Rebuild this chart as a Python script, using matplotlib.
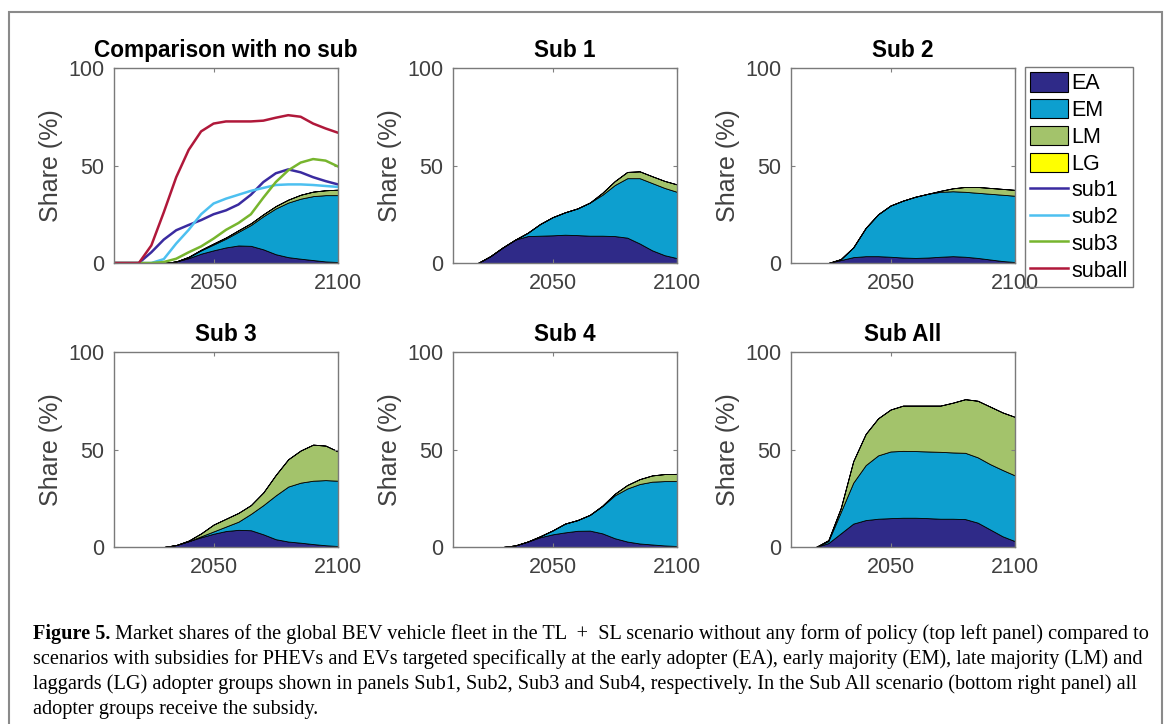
import numpy as np
import matplotlib
matplotlib.use("Agg")
import matplotlib.pyplot as plt
from matplotlib.patches import Patch, Rectangle
from matplotlib.lines import Line2D

plt.rcParams['font.family'] = ['Liberation Sans', 'DejaVu Sans']

# years shown on the x axis
years = np.arange(2010, 2101, 5)

group_names = ["EA", "EM", "LM", "LG"]
group_colors = ["#2f2a88", "#0d9fcf", "#a3c36b", "#ffff00"]

# adopter-group shares (%) per panel, layer values (not cumulative)
nosub_ea = [0, 0, 0, 0, 0, 0.8, 2.5, 4.8, 6.5, 8, 9, 8.8, 7, 4.5, 3, 2.2, 1.5, 0.8, 0.5]
nosub_em = [0, 0, 0, 0, 0, 0, 0.5, 1.7, 3, 4.5, 7, 10.7, 17, 23.5, 28, 30.8, 32.8, 34, 34.3]
nosub_lm = [0, 0, 0, 0, 0, 0, 0.2, 0.3, 0.5, 0.6, 0.8, 0.9, 1, 1.2, 1.5, 2, 2.3, 2.5, 2.8]
nosub_lg = [0] * 19

sub1_ea = [0, 0, 0, 3.5, 8, 12, 13.8, 14, 14.2, 14.5, 14.3, 14, 14, 13.8, 13, 10, 6.5, 4, 2.5]
sub1_em = [0, 0, 0, 0, 0, 0, 1.7, 6, 9.3, 11.5, 13.7, 17, 21, 26.2, 30.5, 33.5, 34.5, 34.5, 34]
sub1_lm = [0, 0, 0, 0, 0, 0, 0, 0, 0, 0, 0, 0, 1, 2, 3.2, 3.5, 3.5, 3.6, 3.8]
sub1_lg = [0] * 19

sub2_ea = [0, 0, 0, 0, 1.5, 3, 3.5, 3.5, 3.2, 2.8, 2.6, 2.8, 3.2, 3.5, 3.2, 2.6, 1.8, 1, 0.5]
sub2_em = [0, 0, 0, 0, 0.5, 5, 14.5, 21.5, 26.3, 29.2, 31.4, 32.7, 33.3, 33.3, 33.3, 33.4, 33.7, 34, 34]
sub2_lm = [0, 0, 0, 0, 0, 0, 0, 0, 0, 0, 0, 0, 0.5, 1.5, 2.5, 3, 3, 3, 3]
sub2_lg = [0] * 19

sub3_ea = [0, 0, 0, 0, 0, 1, 3, 5, 6.8, 8.2, 8.8, 8.6, 6.5, 4, 2.8, 2.2, 1.5, 0.9, 0.5]
sub3_em = [0, 0, 0, 0, 0, 0, 0, 0.5, 1.2, 2.3, 4.2, 8.4, 15, 22.5, 28.2, 30.8, 32.5, 33.4, 33.5]
sub3_lm = [0, 0, 0, 0, 0, 0, 0.3, 1.5, 3.5, 4, 4.5, 4.5, 6.5, 10.5, 14, 16.5, 18.5, 17.7, 15]
sub3_lg = [0] * 19

sub4_ea = [0, 0, 0, 0, 0, 0.8, 2.8, 5, 6.5, 7.5, 8.3, 8.4, 7, 4.5, 2.8, 1.8, 1.3, 0.8, 0.5]
sub4_em = [0, 0, 0, 0, 0, 0, 0, 0.5, 2, 4.5, 5.5, 8.1, 14, 22, 27.2, 30.5, 32.2, 33, 33.3]
sub4_lm = [0, 0, 0, 0, 0, 0, 0, 0, 0, 0, 0, 0, 0.2, 0.8, 1.8, 2.5, 3.2, 3.6, 3.7]
sub4_lg = [0] * 19

suball_ea = [0, 0, 0, 2, 7, 12, 13.8, 14.5, 14.8, 15, 15, 14.8, 14.5, 14.5, 14.3, 12.5, 9, 5.5, 3]
suball_em = [0, 0, 0, 1, 11, 21, 28.2, 32.5, 34.2, 34.3, 34.2, 34.2, 34.3, 34, 34, 33.5, 33.5, 34, 33.7]
suball_lm = [0, 0, 0, 0.5, 2, 11, 16, 19, 21.5, 23.2, 23.3, 23.5, 23.7, 25.5, 27.5, 29, 29.5, 29.5, 30]
suball_lg = [0] * 19

# total BEV share (%) of each subsidy scenario, drawn as lines in the first panel
line_sub1 = [0, 0, 0, 5.5, 12, 16.8, 19.5, 22, 25, 27, 30, 35, 41.5, 46, 48, 46.5, 44, 42, 40.3]
line_sub2 = [0, 0, 0, 0, 2, 10, 17, 25, 30.5, 33, 35, 37, 38.5, 40, 40.3, 40.3, 40, 39.5, 39]
line_sub3 = [0, 0, 0, 0, 0.5, 2.2, 5.5, 8.5, 12.5, 17, 20.5, 25, 33.5, 41.5, 47.5, 51.5, 53.3, 52.5, 49.5]
line_suball = [0, 0, 0, 9, 26, 44, 58, 67.5, 71.5, 72.6, 72.6, 72.6, 73, 74.5, 75.8, 75, 71.5, 69, 66.8]
line_names = ["sub1", "sub2", "sub3", "suball"]
line_colors = ["#3a2ba0", "#4dc0f0", "#77b52e", "#b0183a"]

panel_titles = ["Comparison with no sub", "Sub 1", "Sub 2", "Sub 3", "Sub 4", "Sub All"]
panel_data = [
    (nosub_ea, nosub_em, nosub_lm, nosub_lg),
    (sub1_ea, sub1_em, sub1_lm, sub1_lg),
    (sub2_ea, sub2_em, sub2_lm, sub2_lg),
    (sub3_ea, sub3_em, sub3_lm, sub3_lg),
    (sub4_ea, sub4_em, sub4_lm, sub4_lg),
    (suball_ea, suball_em, suball_lm, suball_lg),
]

W, H = 1171, 724
fig = plt.figure(figsize=(W / 100, H / 100), dpi=100)

# axes boxes in pixels: left, top, width, height
col_left = [114, 453, 791]
row_top = [68, 352]
ax_w, ax_h = 224, 195

tick_col = "#404040"
for i, (title, layers) in enumerate(zip(panel_titles, panel_data)):
    r, c = divmod(i, 3)
    ax = fig.add_axes([col_left[c] / W, 1 - (row_top[r] + ax_h) / H, ax_w / W, ax_h / H])
    ax.stackplot(years, *layers, colors=group_colors, edgecolor="black", linewidth=0.6)
    if i == 0:
        for vals, col in zip([line_sub1, line_sub2, line_sub3, line_suball], line_colors):
            ax.plot(years, vals, color=col, lw=1.8)
    ax.set_xlim(2010, 2100)
    ax.set_ylim(0, 100)
    ax.set_xticks([2050, 2100])
    ax.set_yticks([0, 50, 100])
    ax.tick_params(direction="in", length=3, width=0.8, colors="#808080",
                   labelcolor=tick_col, labelsize=15.5, top=True, right=True, pad=7)
    for s in ax.spines.values():
        s.set_color("#7a7a7a")
        s.set_linewidth(1.0)
    ax.set_title(title, fontsize=16.3, fontweight="bold", pad=8)
    ax.set_ylabel("Share (%)", fontsize=18, color=tick_col, labelpad=4)

handles = [Patch(facecolor=col, edgecolor="black", linewidth=0.8) for col in group_colors]
handles += [Line2D([0], [0], color=col, lw=1.8) for col in line_colors]
leg = fig.legend(handles, group_names + line_names, loc="upper left",
                 bbox_to_anchor=(1025 / W, 1 - 67 / H), fontsize=15.5,
                 handlelength=1.75, handleheight=1.0, handletextpad=0.15,
                 labelspacing=0.22, borderpad=0.25, borderaxespad=0,
                 fancybox=False, edgecolor="#7a7a7a", framealpha=1)
leg.get_frame().set_facecolor("none")
leg.get_frame().set_linewidth(1.0)

# outer frame of the figure box
fig.patches.append(Rectangle((9 / W, -0.05), (1162 - 9) / W, 1 - 12 / H + 0.05,
                             transform=fig.transFigure, fill=False,
                             edgecolor="#8a8a8a", linewidth=1.5))

# caption
serif = ["Liberation Serif", "DejaVu Serif"]
cap_size = 14.6
x0 = 33 / W
y_lines = [639, 664, 689, 714]
bold = fig.text(x0, 1 - y_lines[0] / H, "Figure 5.", fontsize=cap_size, fontweight="bold",
                family=serif, va="baseline")
fig.canvas.draw()
bb = bold.get_window_extent(fig.canvas.get_renderer())
caption = [
    " Market shares of the global BEV vehicle fleet in the TL  +  SL scenario without any form of policy (top left panel) compared to",
    "scenarios with subsidies for PHEVs and EVs targeted specifically at the early adopter (EA), early majority (EM), late majority (LM) and",
    "laggards (LG) adopter groups shown in panels Sub1, Sub2, Sub3 and Sub4, respectively. In the Sub All scenario (bottom right panel) all",
    "adopter groups receive the subsidy.",
]
fig.text(bb.x1 / W, 1 - y_lines[0] / H, caption[0], fontsize=cap_size, family=serif, va="baseline")
for line, y in zip(caption[1:], y_lines[1:]):
    fig.text(x0, 1 - y / H, line, fontsize=cap_size, family=serif, va="baseline")

fig.savefig("out.png", dpi=100)
